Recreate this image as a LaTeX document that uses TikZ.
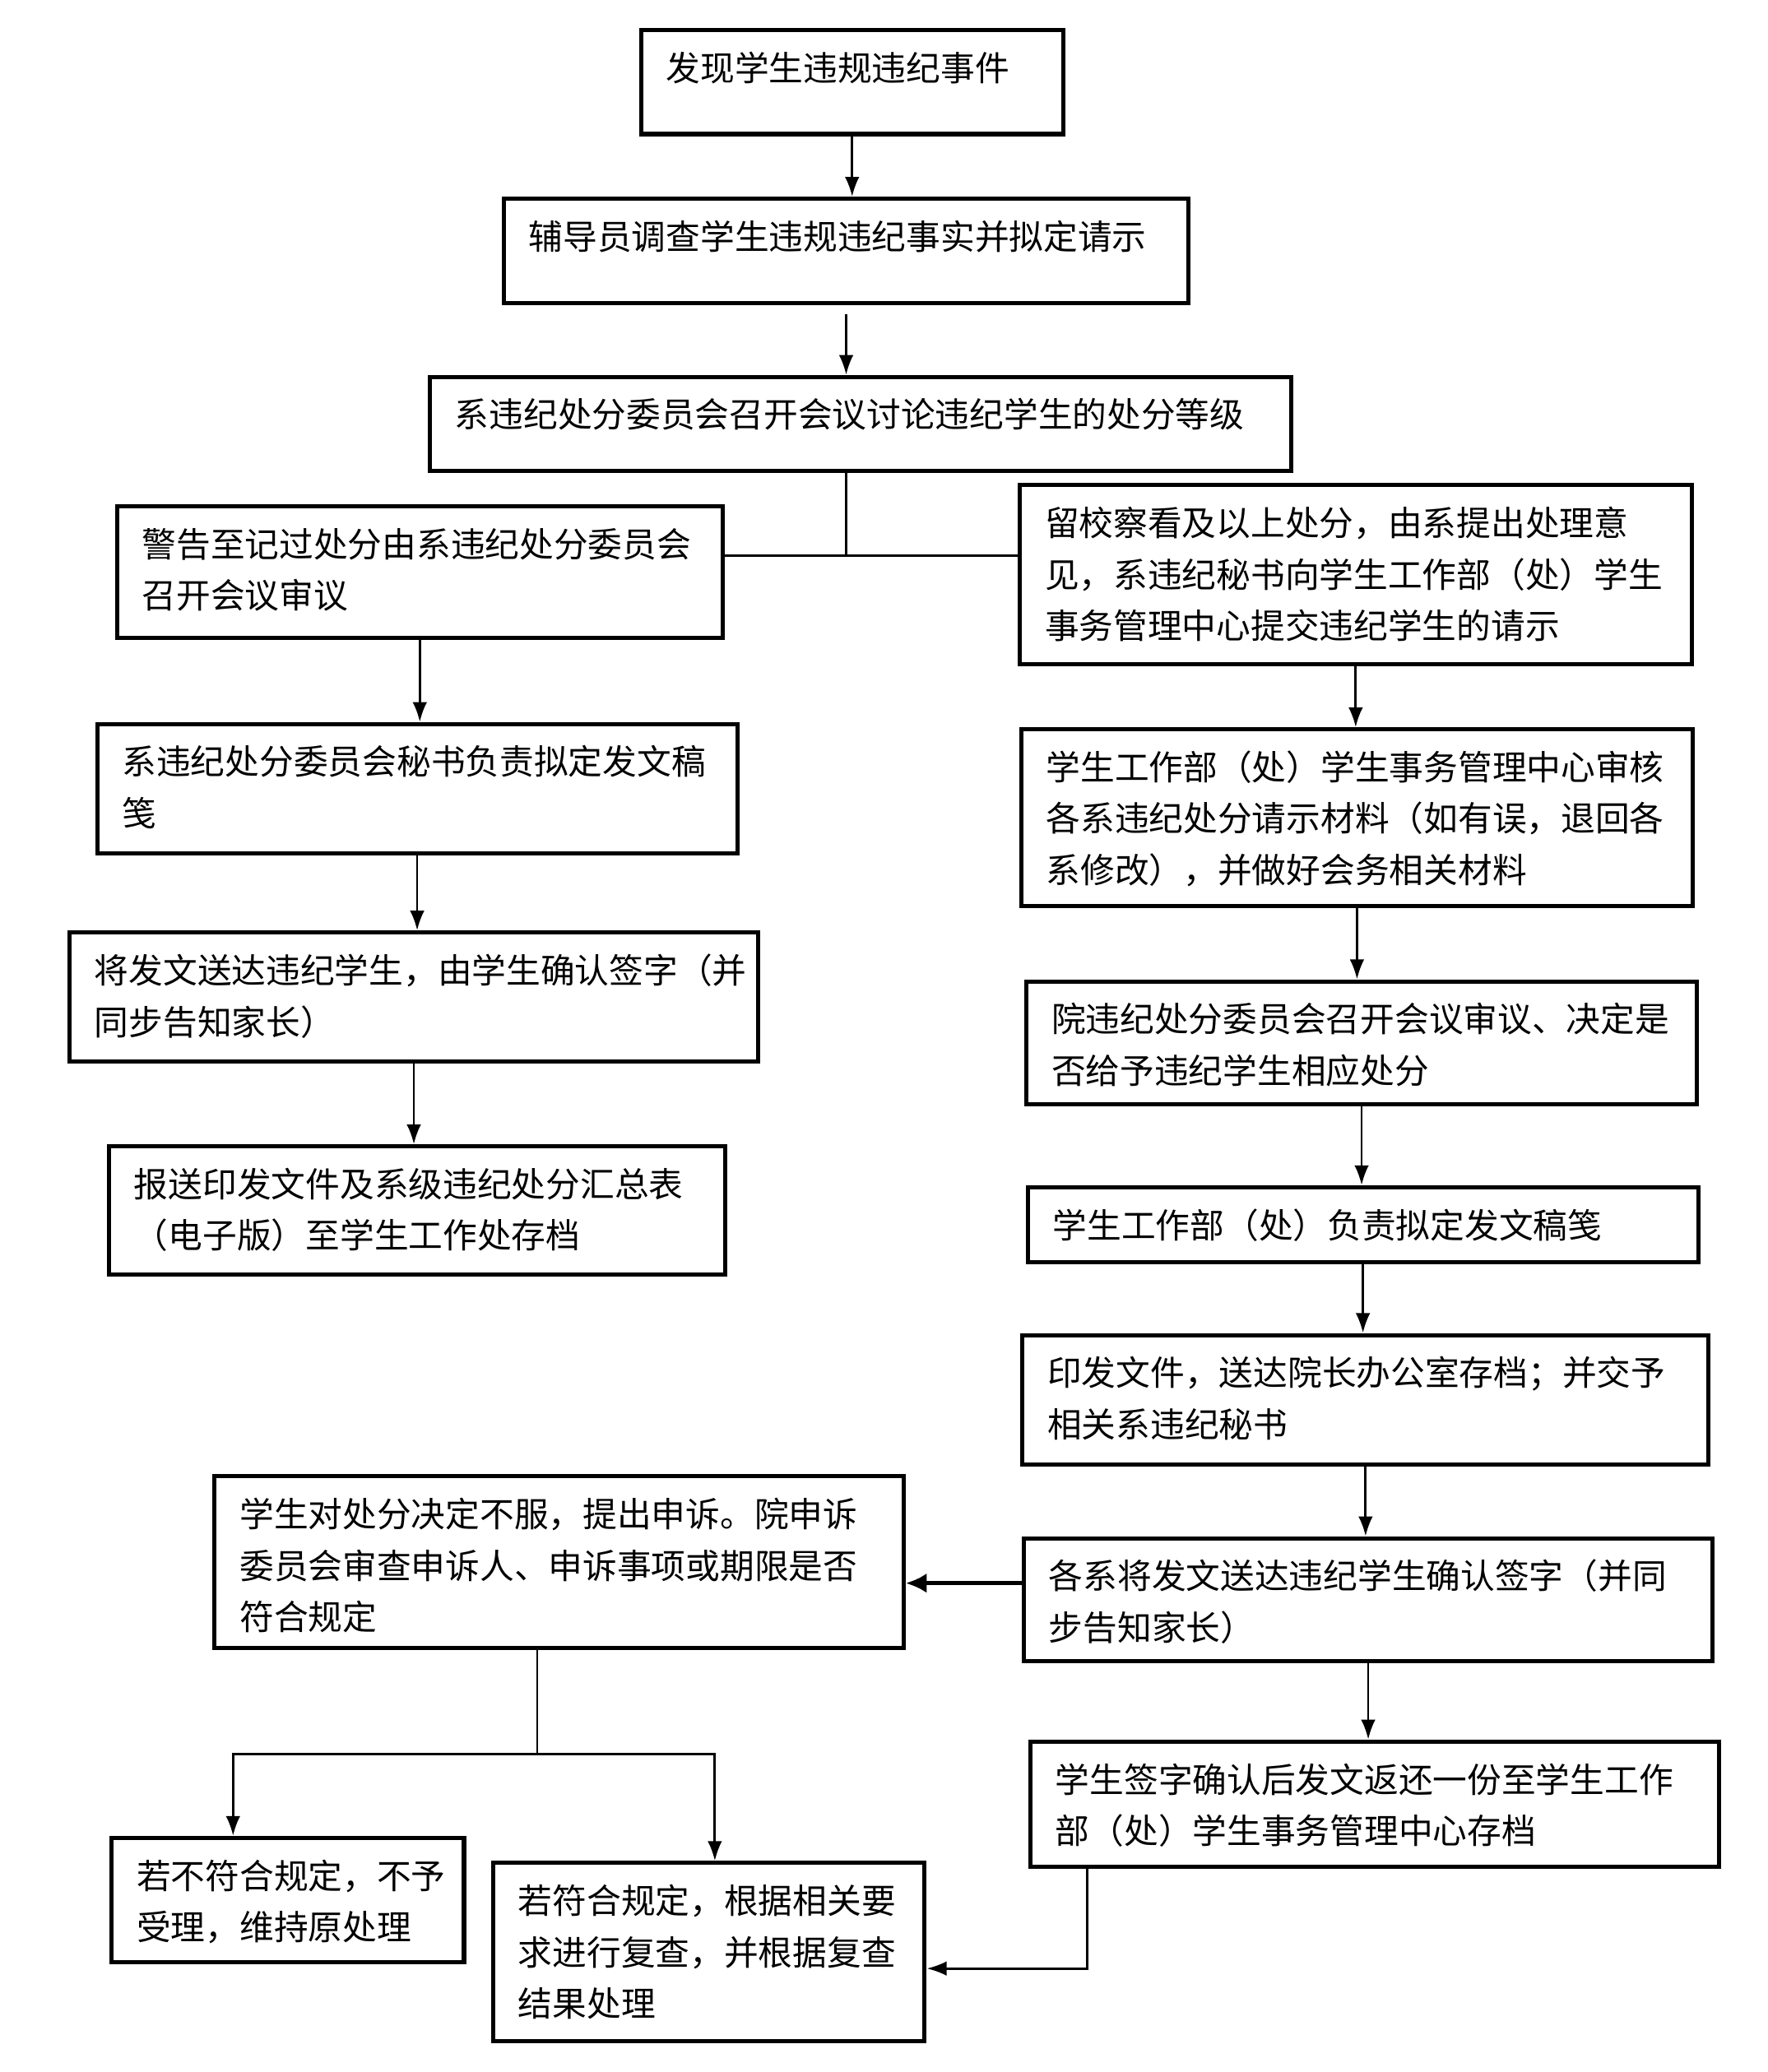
\documentclass[tikz,border=0pt]{standalone}
\usepackage{fontspec}
\newfontfamily\cjk{Noto Sans CJK SC}
\usetikzlibrary{arrows.meta}

\newcommand{\boxtext}[3]{\hspace*{0.38cm}\parbox[c][#2][t]{\dimexpr #1-0.38cm\relax}{\raggedright\rule{0pt}{0.77cm}#3}}

\tikzset{
    cadre/.style={draw, line width=1.8pt, anchor=north west, inner sep=0pt, font=\cjk\fontsize{14.8pt}{22.2pt}\selectfont},
    fleche/.style={line width=1pt, -{Latex[length=0.3cm,width=0.22cm]}},
    grosse/.style={line width=1.8pt, -{Latex[length=0.32cm,width=0.3cm]}},
    trait/.style={line width=1pt}
}

\begin{document}
\begin{tikzpicture}[x=0.02cm, y=-0.02cm]

        \useasboundingbox (0,0) rectangle (1339,1570);

        % Le tronc commun
        \node[cadre] (find) at (484,21) {\boxtext{6.40cm}{1.58cm}{发现学生违规违纪事件}};
        \node[cadre] (inquire) at (380,149) {\boxtext{10.38cm}{1.58cm}{辅导员调查学生违规违纪事实并拟定请示}};
        \node[cadre] (meeting) at (324,284) {\boxtext{13.06cm}{1.42cm}{系违纪处分委员会召开会议讨论违纪学生的处分等级}};

        % La branche de gauche
        \node[cadre] (warn) at (87,382) {\boxtext{9.18cm}{2.00cm}{警告至记过处分由系违纪处分委员会\\召开会议审议}};
        \node[cadre] (draft) at (72,547) {\boxtext{9.70cm}{1.96cm}{系违纪处分委员会秘书负责拟定发文稿\\笺}};
        \node[cadre] (deliver) at (51,705) {\boxtext{10.44cm}{1.96cm}{将发文送达违纪学生，由学生确认签字（并\\同步告知家长）}};
        \node[cadre] (archive) at (81,867) {\boxtext{9.34cm}{1.94cm}{报送印发文件及系级违纪处分汇总表\\（电子版）至学生工作处存档}};

        % La branche de droite
        \node[cadre] (probation) at (771,366) {\boxtext{10.18cm}{2.72cm}{留校察看及以上处分，由系提出处理意\\见，系违纪秘书向学生工作部（处）学生\\事务管理中心提交违纪学生的请示}};
        \node[cadre] (review) at (772,551) {\boxtext{10.18cm}{2.68cm}{学生工作部（处）学生事务管理中心审核\\各系违纪处分请示材料（如有误，退回各\\系修改），并做好会务相关材料}};
        \node[cadre] (college) at (776,742) {\boxtext{10.16cm}{1.86cm}{院违纪处分委员会召开会议审议、决定是\\否给予违纪学生相应处分}};
        \node[cadre] (officedraft) at (777,898) {\boxtext{10.16cm}{1.14cm}{学生工作部（处）负责拟定发文稿笺}};
        \node[cadre] (print) at (773,1010) {\boxtext{10.40cm}{1.96cm}{印发文件，送达院长办公室存档；并交予\\相关系违纪秘书}};
        \node[cadre] (notify) at (774,1164) {\boxtext{10.44cm}{1.86cm}{各系将发文送达违纪学生确认签字（并同\\步告知家长）}};
        \node[cadre] (return) at (779,1318) {\boxtext{10.44cm}{1.90cm}{学生签字确认后发文返还一份至学生工作\\部（处）学生事务管理中心存档}};

        % Le recours
        \node[cadre] (appeal) at (161,1117) {\boxtext{10.44cm}{2.60cm}{学生对处分决定不服，提出申诉。院申诉\\委员会审查申诉人、申诉事项或期限是否\\符合规定}};
        \node[cadre] (reject) at (83,1391) {\boxtext{5.34cm}{1.88cm}{若不符合规定，不予\\受理，维持原处理}};
        \node[cadre] (recheck) at (372,1410) {\boxtext{6.54cm}{2.70cm}{若符合规定，根据相关要\\求进行复查，并根据复查\\结果处理}};

        \coordinate (split) at (641,421);
        \coordinate (fork) at (407,1329);

        % Les liaisons du tronc
        \draw[fleche] (find.south) -- (find.south |- inquire.north);
        \draw[fleche] ([yshift=-0.14cm]inquire.south) -- (inquire.south |- meeting.north);
        \draw[trait] (meeting.south -| split) -- (split);
        \draw[trait] (warn.east |- split) -- (probation.west |- split);

        % Les liaisons a gauche
        \draw[fleche] (warn.south) -- (warn.south |- draft.north);
        \draw[fleche] (draft.south) -- (draft.south |- deliver.north);
        \draw[fleche] (deliver.south) -- (deliver.south |- archive.north);

        % Les liaisons a droite
        \draw[fleche] (probation.south) -- (probation.south |- review.north);
        \draw[fleche] (review.south) -- (review.south |- college.north);
        \draw[fleche] (college.south) -- (college.south |- officedraft.north);
        \draw[fleche] (officedraft.south) -- (officedraft.south |- print.north);
        \draw[fleche] (print.south) -- (print.south |- notify.north);
        \draw[fleche] (notify.south) -- (notify.south |- return.north);
        \draw[grosse] ([yshift=0.25cm]notify.west) -- ([yshift=0.25cm]notify.west -| appeal.east);

        % Les liaisons du recours
        \draw[trait] (appeal.south -| fork) -- (fork);
        \draw[fleche] (fork) -| ([xshift=-0.83cm]reject.north);
        \draw[fleche] (fork) -| ([xshift=0.09cm]recheck.north);
        \draw[fleche] ([xshift=-4.36cm]return.south) |- ([yshift=-0.25cm]recheck.east);

\end{tikzpicture}
\end{document}
